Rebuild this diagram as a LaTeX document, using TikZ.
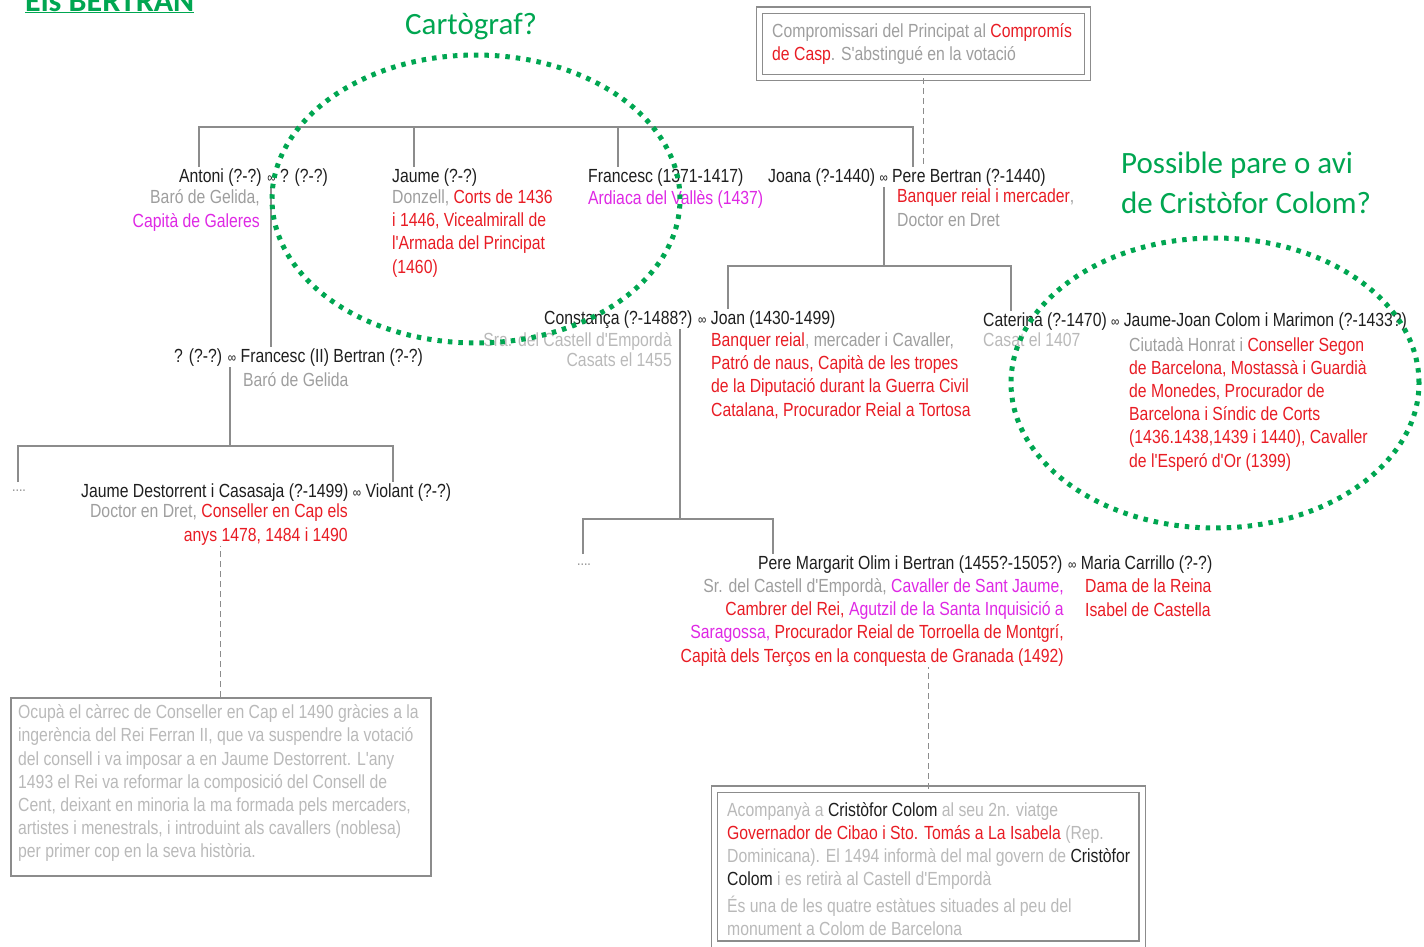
\documentclass[tikz,border=0pt]{standalone}
\usepackage{fontspec}
\usepackage{xcolor}
\usepackage{tikz}
\usetikzlibrary{positioning,calc,shapes.geometric}
\newfontfamily\chartfont[FakeStretch=0.83]{Liberation Sans}
\newfontfamily\notefont{Carlito}
\definecolor{tgreen}{RGB}{0,166,81}
\definecolor{tblack}{RGB}{30,30,30}
\definecolor{tgrey}{RGB}{158,158,158}
\definecolor{tpale}{RGB}{185,185,185}
\definecolor{tred}{RGB}{232,28,36}
\definecolor{tmag}{RGB}{222,40,228}
\definecolor{tline}{RGB}{140,140,140}
\newcommand{\mar}{{\fontsize{14}{14}\selectfont ∞}}

\begin{document}
\begin{tikzpicture}
        [
    x=1pt, y=-1pt,
    basic/.style={font=\chartfont\fontsize{19}{23.2}\selectfont, inner sep=1pt},
    person/.style={basic, text=tblack, anchor=base west},
    info/.style={basic, text=tgrey, align=left, anchor=base west},
    inforight/.style={basic, text=tgrey, align=right, anchor=base east},
    more/.style={basic, font=\chartfont\fontsize{15}{15}\selectfont, text=tline, anchor=base},
    remark/.style={font=\notefont\fontsize{31}{40}\selectfont, text=tgreen, align=left, anchor=base west, inner sep=0pt},
    tree/.style={draw=tline, line width=1.6pt},
    link/.style={draw=tline, line width=1.3pt, dash pattern=on 6pt off 4pt},
    notebox/.style={draw=tline, line width=1.5pt, anchor=north west},
    dbox/.style={draw=tline, double=white, double distance=5pt, line width=1.3pt, anchor=north west},
    guess/.style={draw=tgreen, line width=5pt, dash pattern=on 4.5pt off 6pt, ellipse, inner sep=0pt}
    ]
    \useasboundingbox (0,0) rectangle (1424,946);

    % Titol i anotacions (les notes de diverses linies van per la base de l'ultima linia)
    \node [anchor=base west, inner sep=0pt, font=\notefont\bfseries\fontsize{32}{36}\selectfont, text=tgreen] (title) at (25,11) {\underline{Els BERTRAN}};
    \node [remark] (cartograf) at (405,34) {Cartògraf?};
    \node [remark] (colomq) at (1121,213) {Possible pare o avi\\de Cristòfor Colom?};

    % Compromis de Casp
    \node [dbox, minimum width=328, minimum height=67.5] (caspBox) at (759,9.5) {};
    \node [basic, anchor=north west, text=tgrey, align=left] (caspText) at ([shift={(12,12.5)}]caspBox.north west)
        {Compromissari del Principat al \textcolor{tred}{Compromís}\\\textcolor{tred}{de Casp}. S'abstingué en la votació};

    % Primera generacio
    \node [person] (antoni) at (178,182) {Antoni (?-?) \mar{} ? (?-?)};
    \node [inforight] (antoniInfo) at (261,227) {Baró de Gelida,\\\textcolor{tmag}{Capità de Galeres}};
    \node [person] (jaume) at (391,182) {Jaume (?-?)};
    \node [info, text=tred] (jaumeInfo) at (391,273) {\textcolor{tgrey}{Donzell,} Corts de 1436\\i 1446, Vicealmirall de\\l'Armada del Principat\\(1460)};
    \node [person] (francesc) at (587,182) {Francesc (1371-1417)};
    \node [info, text=tmag] (francescInfo) at (587,204) {Ardiaca del Vallès (1437)};
    \node [person] (pere) at (767,182) {Joana (?-1440) \mar{} Pere Bertran (?-1440)};
    \node [info] (pereInfo) at (896,226) {\textcolor{tred}{Banquer reial i mercader},\\Doctor en Dret};
    \coordinate (rootL) at (199,127);
    \coordinate (rootR) at (913,127);
    \coordinate (jaumeUp) at (414,127);
    \coordinate (francescUp) at (618,127);
    \draw [tree] (rootL |- antoni.north) -- (rootL) -- (rootR) -- (rootR |- pere.north);
    \draw [tree] (jaumeUp) -- (jaumeUp |- jaume.north);
    \draw [tree] (francescUp) -- (francescUp |- francesc.north);
    \draw [link] (caspBox.south) -- (caspBox.south |- pere.north);

    % Branca de Gelida
    \node [person] (francescII) at (173,362) {? (?-?) \mar{} Francesc (II) Bertran (?-?)};
    \node [info] (francescIIInfo) at (242,386) {Baró de Gelida};
    \coordinate (antoniDown) at (271,0);
    \draw [tree] (antoni.south -| antoniDown) -- (francescII.north -| antoniDown);
    \node [person] (destorrent) at (80,497) {Jaume Destorrent i Casasaja (?-1499) \mar{} Violant (?-?)};
    \node [inforight, text=tred] (destInfo) at (349,541) {\textcolor{tgrey}{Doctor en Dret,} Conseller en Cap els\\anys 1478, 1484 i 1490};
    \node [more] (moreA) at (19,491) {....};
    \coordinate (fIIDown) at (230,446);
    \coordinate (gbarL) at (18,446);
    \coordinate (gbarR) at (393,446);
    \draw [tree] (francescII.south -| fIIDown) -- (fIIDown);
    \draw [tree] (gbarL |- destorrent.north) -- (gbarL) -- (gbarR) -- (gbarR |- destorrent.north);
    % Nota de Destorrent
    \node [notebox, minimum width=420, minimum height=178] (destBox) at (10,697) {};
    \node [basic, anchor=north west, text=tpale, align=left] (destText) at ([shift={(7,6.5)}]destBox.north west)
        {Ocupà el càrrec de Conseller en Cap el 1490 gràcies a la\\
         ingerència del Rei Ferran II, que va suspendre la votació\\
         del consell i va imposar a en Jaume Destorrent. L'any\\
         1493 el Rei va reformar la composició del Consell de\\
         Cent, deixant en minoria la ma formada pels mercaders,\\
         artistes i menestrals, i introduint als cavallers (noblesa)\\
         per primer cop en la seva història.};
    \draw [link] (destBox.north) -- (destBox.north |- destInfo.south);

    % Fills de Pere Bertran
    \node [person] (joan) at (543,324) {Constança (?-1488?) \mar{} Joan (1430-1499)};
    \node [inforight, text=tpale, font=\chartfont\fontsize{19}{20}\selectfont] (constInfo) at (673,366) {Sra. del Castell d'Empordà\\Casats el 1455};
    \node [info, text=tred] (joanInfo) at (710,416) {Banquer reial\textcolor{tgrey}{, mercader i Cavaller,}\\Patró de naus, Capità de les tropes\\de la Diputació durant la Guerra Civil\\Catalana, Procurador Reial a Tortosa};
    \node [person] (caterina) at (982,326) {Caterina (?-1470) \mar{} Jaume-Joan Colom i Marimon (?-1433?)};
    \node [info, text=tpale] (caterinaInfo) at (982,346) {Casat el 1407};
    \node [info, text=tred] (colomInfo) at (1128,467) {\textcolor{tgrey}{Ciutadà Honrat i} Conseller Segon\\de Barcelona, Mostassà i Guardià\\de Monedes, Procurador de\\Barcelona i Síndic de Corts\\(1436.1438,1439 i 1440), Cavaller\\de l'Esperó d'Or (1399)};
    \coordinate (pereDown) at (884,266);
    \coordinate (pbarL) at (728,266);
    \coordinate (pbarR) at (1011,266);
    \draw [tree] (pere.south -| pereDown) -- (pereDown);
    \draw [tree] (joan.north -| pbarL) -- (pbarL) -- (pbarR) -- (caterina.north -| pbarR);

    % Fills de Joan
    \node [person] (margarit) at (757,569) {Pere Margarit Olim i Bertran (1455?-1505?) \mar{} Maria Carrillo (?-?)};
    \node [inforight, text=tred] (margInfo) at (1065,662)
        {\textcolor{tgrey}{Sr. del Castell d'Empordà,} \textcolor{tmag}{Cavaller de Sant Jaume,}\\
         Cambrer del Rei, \textcolor{tmag}{Agutzil de la Santa Inquisició a}\\
         \textcolor{tmag}{Saragossa,} Procurador Reial de Torroella de Montgrí,\\
         Capità dels Terços en la conquesta de Granada (1492)};
    \node [info, text=tred] (mariaInfo) at (1084,616) {Dama de la Reina\\Isabel de Castella};
    \node [more] (moreB) at (584,565) {....};
    \coordinate (joanDown) at (680,519);
    \coordinate (jbarL) at (583,519);
    \coordinate (jbarR) at (773,519);
    \draw [tree] (joan.south -| joanDown) -- (joanDown);
    \draw [tree] (jbarL |- margarit.north) -- (jbarL) -- (jbarR) -- (jbarR |- margarit.north);
    % Nota de Pere Margarit
    \node [dbox, minimum width=427.5, minimum height=155] (margBox) at (714,788.5) {};
    \node [basic, anchor=north west, text=tpale, align=left] (margText) at ([shift={(12,12.5)}]margBox.north west)
        {Acompanyà a \textcolor{tblack}{Cristòfor Colom} al seu 2n. viatge\\
         \textcolor{tred}{Governador de Cibao i Sto. Tomás a La Isabela} (Rep.\\
         Dominicana). El 1494 informà del mal govern de \textcolor{tblack}{Cristòfor}\\
         \textcolor{tblack}{Colom} i es retirà al Castell d'Empordà\\[3pt]
         És una de les quatre estàtues situades al peu del\\
         monument a Colom de Barcelona};
    \draw [link] (margBox.north) -- (margBox.north |- margInfo.south);

    % Cercles verds
    \node [guess, minimum width=408, minimum height=288] (cartoRing) at (476,199) {};
    \node [guess, minimum width=408, minimum height=290] (colomRing) at (1215,383) {};
\end{tikzpicture}
\end{document}
